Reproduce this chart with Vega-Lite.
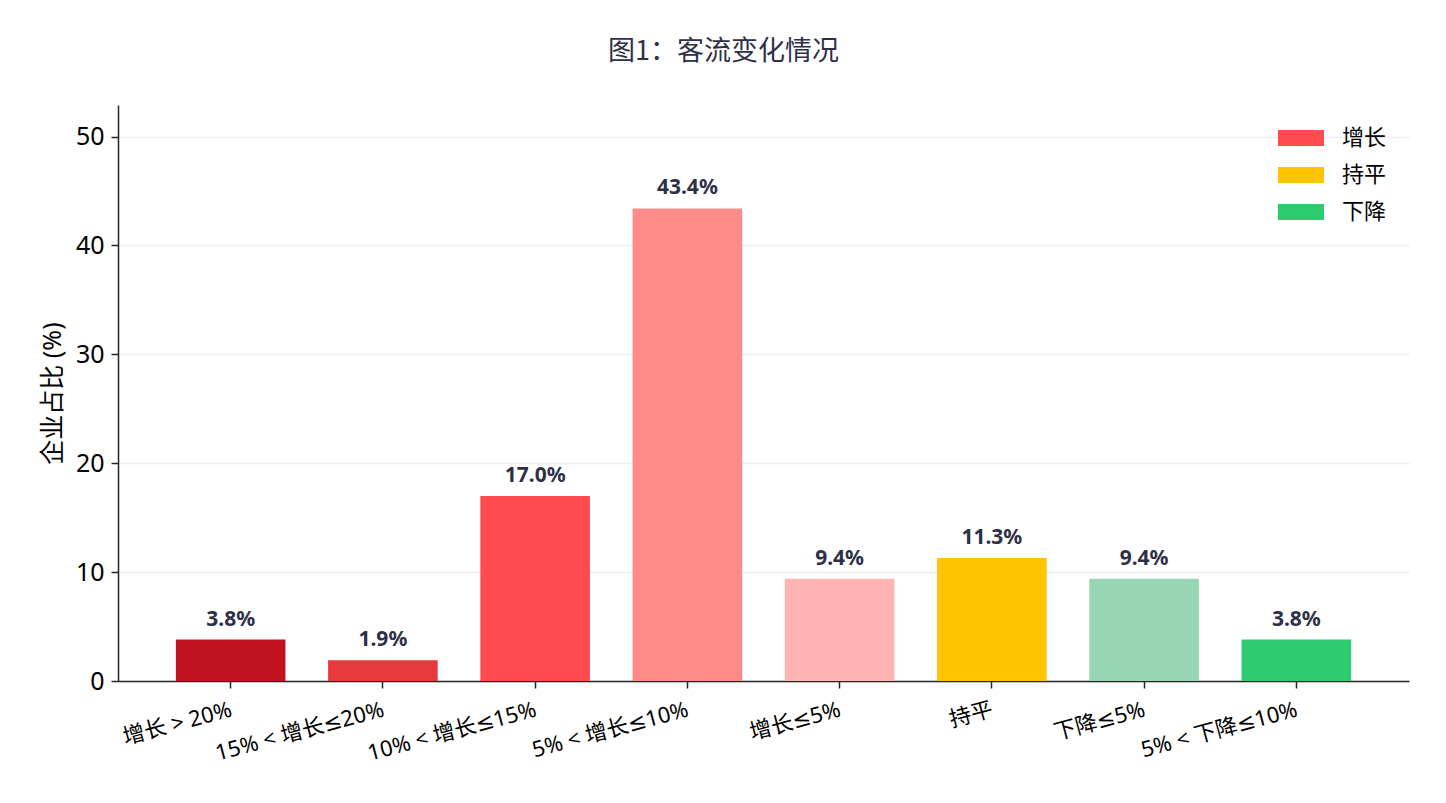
{
  "$schema": "https://vega.github.io/schema/vega-lite/v6.json",
  "width": 1291,
  "height": 576,
  "autosize": "none",
  "padding": {"left": 118, "top": 105, "right": 37, "bottom": 122},
  "background": "white",
  "title": {
    "text": "图1：客流变化情况",
    "fontSize": 27,
    "fontWeight": "normal",
    "color": "#2E3047",
    "anchor": "middle",
    "dx": -40,
    "offset": 39,
    "font": "Noto Sans CJK SC"
  },
  "data": {
    "values": [
      {"category": "增长 > 20%", "value": 3.8, "group": "增长"},
      {"category": "15% < 增长≤20%", "value": 1.9, "group": "增长"},
      {"category": "10% < 增长≤15%", "value": 17.0, "group": "增长"},
      {"category": "5% < 增长≤10%", "value": 43.4, "group": "增长"},
      {"category": "增长≤5%", "value": 9.4, "group": "增长"},
      {"category": "持平", "value": 11.3, "group": "持平"},
      {"category": "下降≤5%", "value": 9.4, "group": "下降"},
      {"category": "5% < 下降≤10%", "value": 3.8, "group": "下降"}
    ]
  },
  "transform": [
    {"calculate": "format(datum.value, '.1f') + '%'", "as": "label"}
  ],
  "encoding": {
    "x": {
      "field": "category",
      "type": "nominal",
      "sort": null,
      "title": null,
      "scale": {"paddingInner": 0.28, "paddingOuter": 0.38},
      "axis": {
        "labelAngle": -15,
        "labelAlign": "right",
        "labelBaseline": "top",
        "labelFontSize": 22,
        "labelColor": "black",
        "labelPadding": 11,
        "labelOffset": -2,
        "labelOverlap": false,
        "labelFont": "Noto Sans, DejaVu Sans, Noto Sans CJK SC",
        "domainColor": "#262626",
        "domainWidth": 1.5,
        "tickColor": "#262626",
        "tickWidth": 1.5,
        "tickSize": 7,
        "grid": false
      }
    },
    "y": {
      "field": "value",
      "type": "quantitative",
      "title": "企业占比 (%)",
      "scale": {"domain": [0, 52.9], "nice": false},
      "axis": {
        "values": [0, 10, 20, 30, 40, 50],
        "grid": true,
        "gridColor": "#EDEDED",
        "gridWidth": 1.5,
        "domainColor": "#262626",
        "domainWidth": 1.5,
        "tickColor": "#262626",
        "tickWidth": 1.5,
        "tickSize": 7,
        "labelFontSize": 25,
        "labelColor": "black",
        "labelPadding": 7,
        "labelFont": "Noto Sans",
        "titleFont": "Noto Sans, Noto Sans CJK SC",
        "titleFontSize": 25,
        "titleFontWeight": "normal",
        "titleColor": "black",
        "titlePadding": 10
      }
    }
  },
  "layer": [
    {
      "mark": {"type": "bar"},
      "encoding": {
        "color": {
          "field": "category",
          "type": "nominal",
          "scale": {
            "domain": ["增长 > 20%", "15% < 增长≤20%", "10% < 增长≤15%", "5% < 增长≤10%", "增长≤5%", "持平", "下降≤5%", "5% < 下降≤10%"],
            "range": ["#C1121F", "#E63A3C", "#FF4B4F", "#FF8A8A", "#FFB3B3", "#FFC300", "#98D5B3", "#2ECC71"]
          },
          "legend": null
        }
      }
    },
    {
      "mark": {"type": "bar", "opacity": 0},
      "encoding": {
        "fill": {
          "field": "group",
          "type": "nominal",
          "scale": {
            "domain": ["增长", "持平", "下降"],
            "range": ["#FF4B4F", "#FFC300", "#2ECC71"]
          },
          "legend": {
            "title": null,
            "orient": "none",
            "legendX": 1160,
            "legendY": 10,
            "symbolType": "M-1,-0.35H1V0.35H-1Z",
            "symbolSize": 2116,
            "symbolOpacity": 1,
            "symbolStrokeWidth": 0,
            "labelFontSize": 22,
            "labelColor": "black",
            "labelFont": "Noto Sans CJK SC",
            "labelOffset": 18,
            "rowPadding": 3
          }
        }
      }
    },
    {
      "mark": {
        "type": "text",
        "baseline": "alphabetic",
        "dy": -14,
        "fontSize": 21,
        "fontWeight": "bold",
        "color": "#2E3047",
        "font": "Noto Sans"
      },
      "encoding": {
        "text": {"field": "label", "type": "nominal"}
      }
    }
  ],
  "config": {
    "view": {"stroke": null}
  }
}
